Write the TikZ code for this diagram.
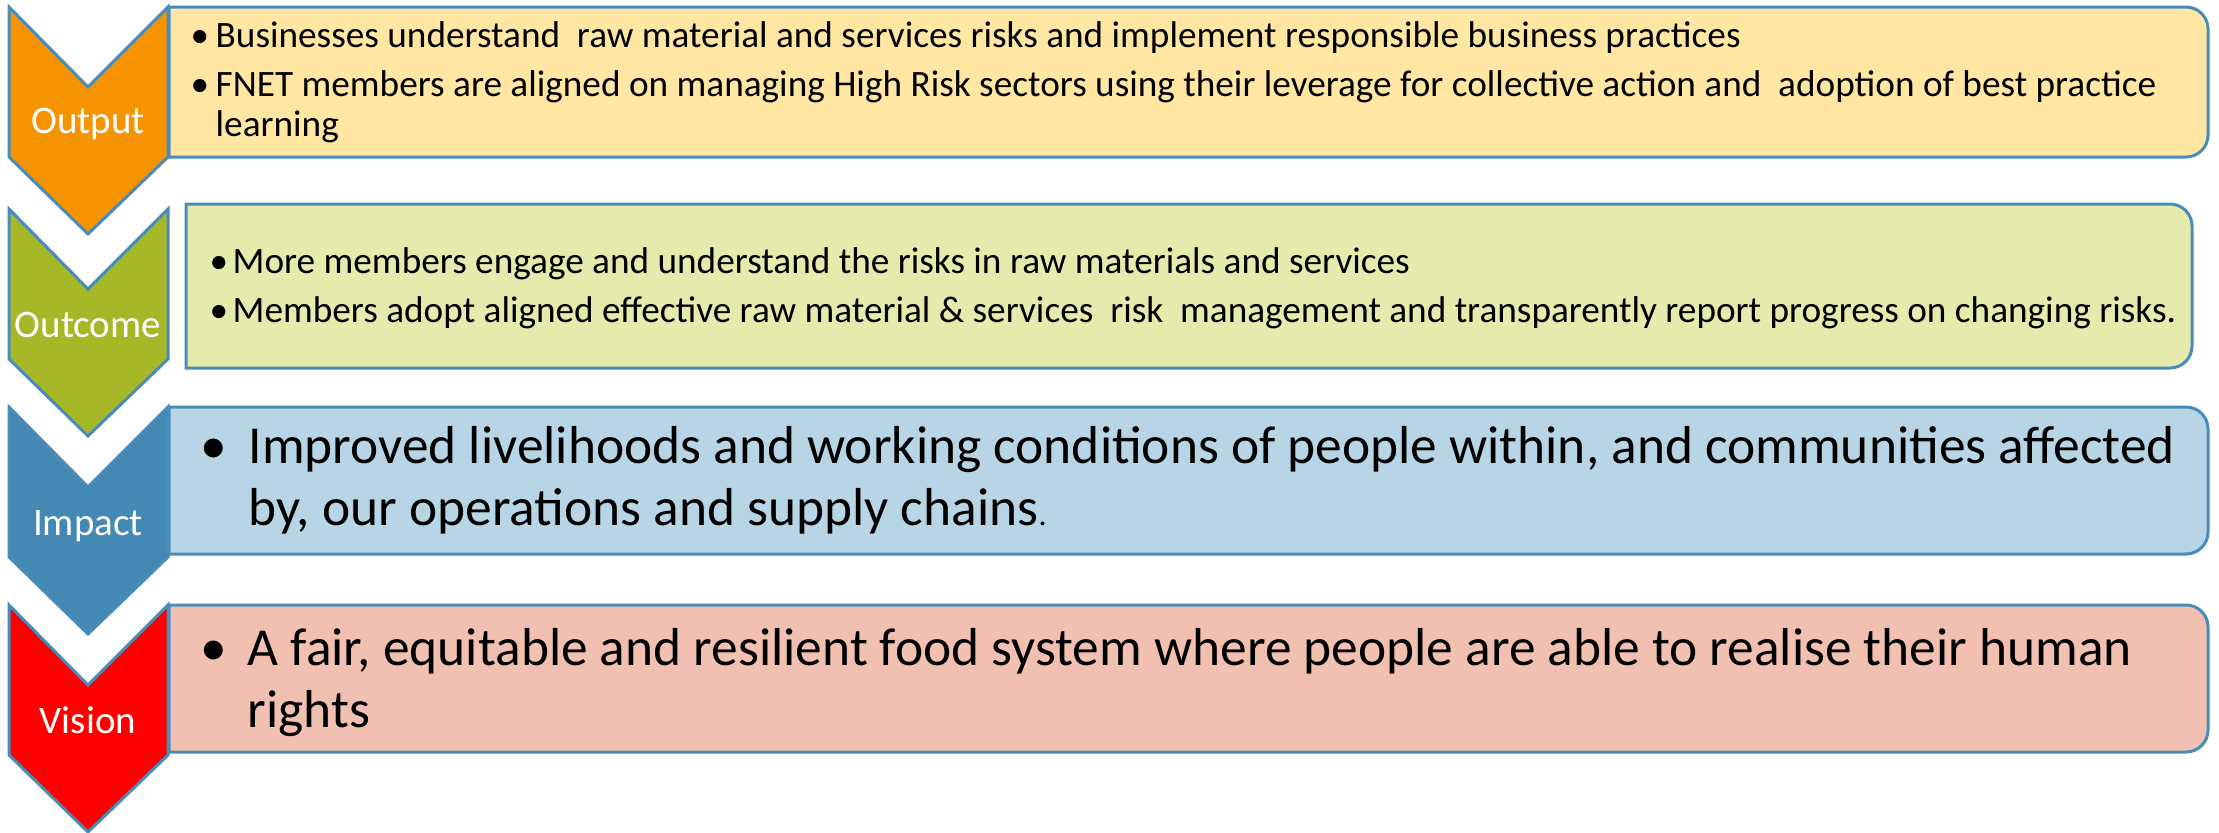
\documentclass[tikz,border=0pt]{standalone}
\usepackage{fontspec}
\setmainfont{Carlito}
\usepackage{xcolor}
\usepackage{tikz}

\definecolor{edgeblue}{HTML}{4A8CB9}
\definecolor{outputdark}{HTML}{F59300}
\definecolor{outputlight}{HTML}{FFE7A3}
\definecolor{outcomedark}{HTML}{A6B727}
\definecolor{outcomelight}{HTML}{E4EBAC}
\definecolor{impactdark}{HTML}{4389B3}
\definecolor{impactlight}{HTML}{B8D5E5}
\definecolor{visiondark}{HTML}{FF0000}
\definecolor{visionlight}{HTML}{F2C0B1}

% bullet in a column of fixed width
\newcommand{\dotcol}[1]{\makebox[#1][l]{\textbullet}}

\begin{document}
\begin{tikzpicture}[x=0.1mm,y=0.1mm,
  edge/.style={draw=edgeblue,line width=0.3mm},
  stage/.style={white,anchor=base,inner sep=0pt,font=\fontsize{11.1pt}{13pt}\selectfont},
  smalltext/.style={anchor=base west,inner sep=0pt,font=\fontsize{10.6pt}{11.4pt}\selectfont},
  bigtext/.style={anchor=base west,inner sep=0pt,font=\fontsize{15.2pt}{17.8pt}\selectfont}]
  \useasboundingbox (0,0) rectangle (2219,832);

  % chevrons on the left
  \foreach \t/\col in {825/outputdark,623/outcomedark,425/impactdark,227/visiondark}
    \filldraw[edge,fill=\col] (9,\t) -- (88,\t-80) -- (168,\t) -- (168,\t-150)
      -- (88,\t-227) -- (9,\t-150) -- cycle;

  % boxes, rounded on the right only
  \foreach \l/\r/\t/\b/\col in {169/2208/825/675/outputlight,186/2192/628/464/outcomelight,
      169/2208/425/278/impactlight,169/2208/227/80/visionlight}
    \filldraw[edge,fill=\col] (\l,\t) -- (\r-22,\t) arc[start angle=90,end angle=0,radius=22]
      -- (\r,\b+22) arc[start angle=0,end angle=-90,radius=22] -- (\l,\b) -- cycle;

  \node[stage] (output) at (88,699) {Output};
  \node[stage] (outcome) at (88,495) {Outcome};
  \node[stage] (impact) at (88,297) {Impact};
  \node[stage] (vision) at (88,99) {Vision};

  \node[smalltext] (outputtext) at (190,785) {\begin{tabular}[t]{@{}l@{}l@{}}
    \dotcol{2.5mm} & Businesses understand\ \ raw material and services risks and implement responsible business practices\\[2.8pt]
    \dotcol{2.5mm} & FNET members are aligned on managing High Risk sectors using their leverage for collective action and\ \ adoption of best practice\\
    & learning
  \end{tabular}};
  \node[smalltext] (outcometext) at (209,559) {\begin{tabular}[t]{@{}l@{}l@{}}
    \dotcol{2.3mm} & More members engage and understand the risks in raw materials and services\\[2.6pt]
    \dotcol{2.3mm} & Members adopt aligned effective raw material \& services\ \ risk\ \ management and transparently report progress on changing risks.
  \end{tabular}};
  \node[bigtext] (impacttext) at (200,369) {\begin{tabular}[t]{@{}l@{}l@{}}
    \dotcol{4.8mm} & Improved livelihoods and working conditions of people within, and communities affected\\
    & by, our operations and supply chains{\small .}
  \end{tabular}};
  \node[bigtext] (visiontext) at (200,167) {\begin{tabular}[t]{@{}l@{}l@{}}
    \dotcol{4.7mm} & A fair, equitable and resilient food system where people are able to realise their human\\
    & rights
  \end{tabular}};
\end{tikzpicture}
\end{document}
